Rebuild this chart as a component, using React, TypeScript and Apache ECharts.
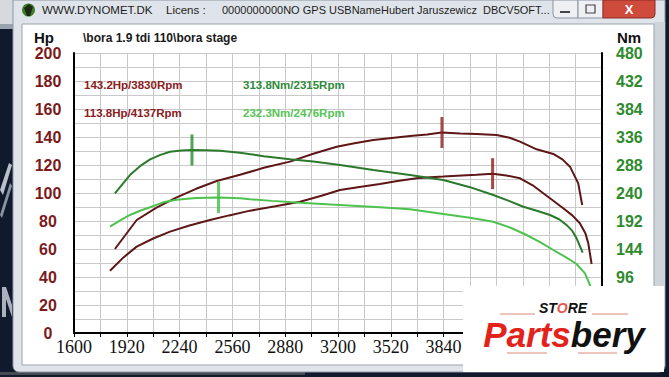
import React, { useEffect, useRef } from "react";
import * as echarts from "echarts";

// ---- data ----
// tick labels that are visible (the rest lie under the logo overlay)
const xTickLabels = [1600, 1920, 2240, 2560, 2880, 3200, 3520, 3840];
const hpTickLabels = [0, 20, 40, 60, 80, 100, 120, 140, 160, 180, 200];
const nmTickLabels = [96, 144, 192, 240, 288, 336, 384, 432, 480];

const hpStageRpm = [1848, 1980, 2100, 2222, 2340, 2465, 2606, 2750, 2909, 3050, 3192, 3300, 3414, 3540, 3636, 3740, 3828, 3940, 4040, 4161, 4240, 4303, 4404, 4505, 4560, 4606, 4656, 4680];
const hpStage = [60, 80.7, 89.5, 96.9, 103, 108.6, 113, 118, 122.4, 128, 133, 135.5, 137.9, 139.5, 140.7, 141.8, 143.2, 142.5, 142.1, 141.4, 139.5, 136.7, 131.2, 127.9, 124, 118.8, 106.9, 91.4];

const hpStockRpm = [1818, 1900, 1980, 2080, 2182, 2300, 2424, 2540, 2667, 2820, 2970, 3100, 3212, 3330, 3454, 3560, 3677, 3760, 3838, 3950, 4040, 4137, 4220, 4303, 4380, 4444, 4505, 4565, 4620, 4666, 4700, 4717, 4737];
const hpStock = [44.5, 54, 61.7, 67.5, 72.4, 76.8, 80.7, 84, 87.4, 90.5, 93.8, 98, 102.1, 104.3, 106.4, 108.5, 110.5, 111.2, 111.7, 112.5, 113, 113.8, 112.5, 110.5, 105.5, 99.8, 94.5, 89.1, 84, 78.4, 71, 64, 49.3];

const tqStageRpm = [1848, 1939, 2000, 2061, 2120, 2182, 2250, 2315, 2400, 2485, 2606, 2750, 2909, 3050, 3212, 3414, 3636, 3838, 4000, 4141, 4240, 4323, 4400, 4485, 4540, 4586, 4620, 4646, 4683];
const tqStage = [239.4, 270.8, 286, 297.7, 305, 310.8, 313, 313.8, 313.2, 312.5, 309, 303, 298, 294, 288, 279.4, 270.8, 262.2, 250, 236.5, 226, 216.5, 210, 202.3, 195, 185, 175, 162.3, 137.6];

const tqStockRpm = [1818, 1880, 1939, 2000, 2061, 2140, 2222, 2340, 2476, 2606, 2667, 2800, 2970, 3212, 3454, 3636, 3838, 4000, 4141, 4250, 4343, 4430, 4505, 4580, 4646, 4697, 4727, 4740];
const tqStock = [182.2, 193, 202.3, 209.5, 215.5, 224, 228.5, 231.5, 232.3, 230.9, 229.2, 226.5, 223.3, 219.4, 215.5, 212, 204, 197.5, 190.8, 180, 168, 155, 142.3, 130, 118.3, 102.3, 82.3, 68];

const peakHpStage = [3830, 143.2];
const peakHpStock = [4137, 113.8];
const peakTqStage = [2315, 313.8];
const peakTqStock = [2476, 232.3];

const chartTitle = "\\bora 1.9 tdi 110\\bora stage";
const legendTexts = ["143.2Hp/3830Rpm", "313.8Nm/2315Rpm", "113.8Hp/4137Rpm", "232.3Nm/2476Rpm"];

const zip = (xs: number[], ys: number[]) => xs.map((x, i) => [x, ys[i]]);

const RED = "#5e1616";
const RED_MARK = "#8e1c1c";
const GREEN_DARK = "#2b7a2b";
const GREEN_LIGHT = "#4ec24e";

export default function App() {
  const ref = useRef<HTMLDivElement>(null);

  useEffect(() => {
    document.body.style.margin = "0";
    const chart = echarts.init(ref.current!, null, { renderer: "svg" });

    const bg = (o: any) => ({ ...o, z: -10, silent: true });

    const option: any = {
      animation: false,
      backgroundColor: "transparent",
      grid: { left: 74, right: 67, top: 53, bottom: 44 },
      xAxis: {
        type: "value",
        min: 1600,
        max: 4800,
        interval: 160,
        axisLine: { show: true, onZero: false, lineStyle: { color: "#000", width: 2 } },
        axisTick: { show: true, length: 4, lineStyle: { color: "#000" } },
        splitLine: { show: true, lineStyle: { color: "#c9c9c9", width: 1 } },
        axisLabel: {
          margin: 5,
          color: "#111",
          fontSize: 18,
          fontFamily: "Liberation Serif",
          formatter: (v: number) => (xTickLabels.includes(v) ? String(v) : ""),
        },
      },
      yAxis: [
        {
          type: "value",
          position: "left",
          min: 0,
          max: 200,
          interval: 10,
          axisLine: { show: true, lineStyle: { color: "#000", width: 2 } },
          axisTick: { show: false },
          splitLine: { show: true, lineStyle: { color: "#c9c9c9", width: 1 } },
          axisLabel: {
            margin: 26,
            align: "center",
            color: "#7b1a1a",
            fontWeight: "bold",
            fontSize: 16,
            lineHeight: 14,
            fontFamily: "Liberation Sans",
            padding: [7, 0, 0, 0],
            formatter: (v: number) => (hpTickLabels.includes(v) ? String(v) : ""),
          },
        },
        {
          type: "value",
          position: "right",
          min: 0,
          max: 480,
          interval: 48,
          axisLine: { show: true, lineStyle: { color: "#000", width: 2 } },
          axisTick: { show: false },
          splitLine: { show: false },
          axisLabel: {
            margin: 14,
            align: "left",
            color: "#2e8b2e",
            fontWeight: "bold",
            fontSize: 16,
            lineHeight: 14,
            fontFamily: "Liberation Sans",
            padding: [7, 0, 0, 0],
            formatter: (v: number) => (nmTickLabels.includes(v) ? String(v) : ""),
          },
        },
      ],
      series: [
        { type: "line", yAxisIndex: 0, data: zip(hpStageRpm, hpStage), symbol: "none", lineStyle: { color: RED, width: 2 }, z: 3 },
        { type: "line", yAxisIndex: 0, data: zip(hpStockRpm, hpStock), symbol: "none", lineStyle: { color: RED, width: 2 }, z: 3 },
        { type: "line", yAxisIndex: 1, data: zip(tqStageRpm, tqStage), symbol: "none", lineStyle: { color: GREEN_DARK, width: 2 }, z: 3 },
        { type: "line", yAxisIndex: 1, data: zip(tqStockRpm, tqStock), symbol: "none", lineStyle: { color: GREEN_LIGHT, width: 2 }, z: 3 },
        { type: "scatter", yAxisIndex: 0, data: [peakHpStage, peakHpStock], symbol: "rect", symbolSize: [3, 31], itemStyle: { color: RED_MARK }, z: 4 },
        { type: "scatter", yAxisIndex: 1, data: [peakTqStage], symbol: "rect", symbolSize: [3, 31], itemStyle: { color: "#2a8a2a" }, z: 4 },
        { type: "scatter", yAxisIndex: 1, data: [peakTqStock], symbol: "rect", symbolSize: [3, 31], itemStyle: { color: "#3fbf3f" }, z: 4 },
      ],
      graphic: [
        // desktop background
        bg({ type: "rect", shape: { x: 0, y: 0, width: 669, height: 377 }, style: { fill: "#111a2c" } }),
        bg({ type: "rect", shape: { x: 0, y: 0, width: 14, height: 24 }, style: { fill: "#d6dade" } }),
        bg({ type: "rect", shape: { x: 0, y: 24, width: 14, height: 5 }, style: { fill: "#9aa2ad" } }),
        bg({ type: "polygon", shape: { points: [[0, 190], [9, 163], [12, 165], [3, 195]] }, style: { fill: "#b9c0cc" } }),
        bg({ type: "polygon", shape: { points: [[0, 215], [10, 183], [12, 186], [2, 218]] }, style: { fill: "#8a93a3" } }),
        bg({ type: "rect", shape: { x: 2, y: 287, width: 4, height: 30 }, style: { fill: "#aab1bc" } }),
        bg({ type: "polygon", shape: { points: [[6, 287], [12, 305], [12, 317], [6, 299]] }, style: { fill: "#aab1bc" } }),
        bg({ type: "rect", shape: { x: 0, y: 372, width: 305, height: 3 }, style: { fill: "#454b55" } }),
        // window frame
        bg({ type: "rect", shape: { x: 13, y: 0, width: 652, height: 372, r: [0, 0, 6, 6] }, style: { fill: "#dfe4ea", stroke: "#8d96a2", lineWidth: 1 } }),
        bg({ type: "rect", shape: { x: 654, y: 22, width: 11, height: 344 }, style: { fill: "#cfd4da" } }),
        bg({ type: "rect", shape: { x: 22, y: 24, width: 632, height: 341 }, style: { fill: "#ffffff", stroke: "#9aa3ad", lineWidth: 1 } }),
        // title bar icon
        { type: "circle", shape: { cx: 28.5, cy: 10, r: 6.5 }, style: { fill: "#3f7d2a" }, z: 5 },
        { type: "polygon", shape: { points: [[24, 8], [29, 4], [33, 7], [30, 16], [27, 16]] }, style: { fill: "#1c2a14" }, z: 5 },
        // title texts
        { type: "text", x: 42, y: 10, style: { text: "WWW.DYNOMET.DK", fill: "#1d1d1d", fontSize: 11.5, fontFamily: "Liberation Sans", verticalAlign: "middle", align: "left" }, z: 5 },
        { type: "text", x: 166, y: 10, style: { text: "Licens :", fill: "#1d1d1d", fontSize: 11.5, fontFamily: "Liberation Sans", verticalAlign: "middle", align: "left" }, z: 5 },
        { type: "text", x: 222, y: 10, style: { text: "0000000000NO GPS USBNameHubert Jaruszewicz  DBCV5OFT...", fill: "#1d1d1d", fontSize: 11, fontFamily: "Liberation Sans", verticalAlign: "middle", align: "left" }, z: 5 },
        // window buttons
        { type: "rect", shape: { x: 553, y: 0, width: 25, height: 18, r: [0, 0, 0, 4] }, style: { fill: "#eef0f3", stroke: "#8a94a0", lineWidth: 1 }, z: 5 },
        { type: "rect", shape: { x: 560, y: 11, width: 10, height: 2 }, style: { fill: "#444" }, z: 6 },
        { type: "rect", shape: { x: 578, y: 0, width: 25, height: 18 }, style: { fill: "#eef0f3", stroke: "#8a94a0", lineWidth: 1 }, z: 5 },
        { type: "rect", shape: { x: 586, y: 5, width: 9, height: 8 }, style: { fill: "none", stroke: "#444", lineWidth: 1.2 }, z: 6 },
        { type: "rect", shape: { x: 603, y: 0, width: 52, height: 18, r: [0, 0, 4, 0] }, style: { fill: "#cf4b3c", stroke: "#8c2a22", lineWidth: 1 }, z: 5 },
        { type: "text", x: 629, y: 9, style: { text: "X", fill: "#ffffff", fontSize: 13, fontWeight: "bold", fontFamily: "Liberation Sans", align: "center", verticalAlign: "middle" }, z: 6 },
        // chart texts
        { type: "text", x: 34, y: 37, style: { text: "Hp", fill: "#111", fontSize: 15, lineHeight: 13, fontWeight: "bold", fontFamily: "Liberation Sans", align: "left", verticalAlign: "middle" }, z: 5 },
        { type: "text", x: 617, y: 37, style: { text: "Nm", fill: "#111", fontSize: 15, lineHeight: 13, fontWeight: "bold", fontFamily: "Liberation Sans", align: "left", verticalAlign: "middle" }, z: 5 },
        { type: "text", x: 83, y: 38, style: { text: chartTitle, fill: "#1a1a1a", fontSize: 12, fontWeight: "bold", fontFamily: "Liberation Sans", align: "left", verticalAlign: "middle" }, z: 5 },
        { type: "text", x: 84, y: 85, style: { text: legendTexts[0], fill: "#8a2020", fontSize: 11.5, fontWeight: "bold", fontFamily: "Liberation Sans", align: "left", verticalAlign: "middle" }, z: 5 },
        { type: "text", x: 243, y: 85, style: { text: legendTexts[1], fill: "#2e8b3a", fontSize: 11.5, fontWeight: "bold", fontFamily: "Liberation Sans", align: "left", verticalAlign: "middle" }, z: 5 },
        { type: "text", x: 84, y: 113, style: { text: legendTexts[2], fill: "#8a2020", fontSize: 11.5, fontWeight: "bold", fontFamily: "Liberation Sans", align: "left", verticalAlign: "middle" }, z: 5 },
        { type: "text", x: 243, y: 113, style: { text: legendTexts[3], fill: "#55c455", fontSize: 11.5, fontWeight: "bold", fontFamily: "Liberation Sans", align: "left", verticalAlign: "middle" }, z: 5 },
        // logo overlay
        { type: "rect", shape: { x: 463, y: 286, width: 201, height: 86 }, style: { fill: "#ffffff" }, z: 100 },
        { type: "line", shape: { x1: 500, y1: 314, x2: 535, y2: 314 }, style: { stroke: "#d98a78", lineWidth: 1 }, z: 101 },
        { type: "line", shape: { x1: 592, y1: 314, x2: 628, y2: 314 }, style: { stroke: "#d98a78", lineWidth: 1 }, z: 101 },
        {
          type: "text", x: 563, y: 308, z: 101,
          style: {
            text: "{k|ST}{o|O}{k|RE}", align: "center", verticalAlign: "middle",
            rich: {
              k: { fill: "#111", fontSize: 14, lineHeight: 11, fontWeight: "bold", fontStyle: "italic", fontFamily: "Liberation Sans" },
              o: { fill: "#e2574a", fontSize: 14, lineHeight: 11, fontWeight: "bold", fontStyle: "italic", fontFamily: "Liberation Sans" },
            },
          },
        },
        {
          type: "text", x: 564, y: 334, z: 101,
          style: {
            text: "{r|Parts}{k|bery}", align: "center", verticalAlign: "middle",
            rich: {
              r: { fill: "#e3231b", fontSize: 35, lineHeight: 26, fontWeight: "bold", fontStyle: "italic", fontFamily: "Liberation Sans" },
              k: { fill: "#111", fontSize: 35, lineHeight: 26, fontWeight: "bold", fontStyle: "italic", fontFamily: "Liberation Sans" },
            },
          },
        },
        { type: "line", shape: { x1: 507, y1: 353, x2: 547, y2: 353 }, style: { stroke: "#d98a78", lineWidth: 1 }, z: 101 },
        { type: "line", shape: { x1: 578, y1: 353, x2: 617, y2: 353 }, style: { stroke: "#d98a78", lineWidth: 1 }, z: 101 },
      ],
    };

    chart.setOption(option);
    return () => chart.dispose();
  }, []);

  return <div ref={ref} style={{ position: "absolute", left: 0, top: 0, width: 669, height: 377 }} />;
}
